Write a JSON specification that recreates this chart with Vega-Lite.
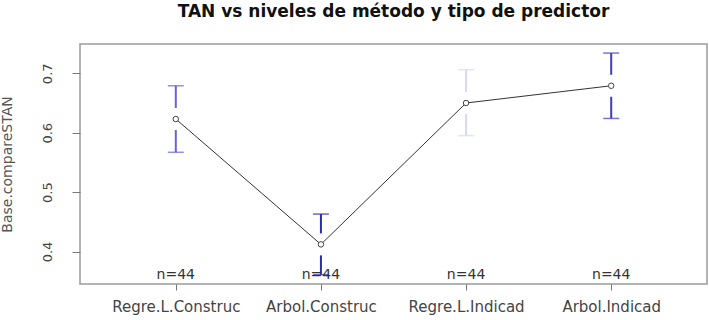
{
  "$schema": "https://vega.github.io/schema/vega-lite/v6.json",
  "width": 627,
  "height": 240,
  "autosize": {"type": "none"},
  "padding": {"left": 80, "top": 44, "right": 2, "bottom": 36},
  "background": "white",
  "config": {
    "view": {"stroke": "#9a9a9a", "strokeWidth": 1.5},
    "font": "DejaVu Sans"
  },
  "title": {
    "text": "TAN vs niveles de método y tipo de predictor",
    "fontSize": 17,
    "fontWeight": "bold",
    "font": "DejaVu Sans",
    "color": "#111111",
    "anchor": "middle",
    "baseline": "alphabetic",
    "offset": 10
  },
  "data": {
    "values": [
      {"grupo": "Regre.L.Construc", "idx": 1, "media": 0.623, "li": 0.567, "li_in": 0.6045, "ls_in": 0.6415, "ls": 0.679, "n": "n=44"},
      {"grupo": "Arbol.Construc", "idx": 2, "media": 0.412, "li": 0.361, "li_in": 0.3935, "ls_in": 0.4305, "ls": 0.463, "n": "n=44"},
      {"grupo": "Regre.L.Indicad", "idx": 3, "media": 0.650, "li": 0.595, "li_in": 0.6315, "ls_in": 0.6685, "ls": 0.706, "n": "n=44"},
      {"grupo": "Arbol.Indicad", "idx": 4, "media": 0.679, "li": 0.624, "li_in": 0.6605, "ls_in": 0.6975, "ls": 0.734, "n": "n=44"}
    ]
  },
  "encoding": {
    "x": {
      "field": "idx",
      "type": "quantitative",
      "scale": {"domain": [0.34, 4.66], "nice": false, "zero": false},
      "axis": {
        "values": [1, 2, 3, 4],
        "labelExpr": "['','Regre.L.Construc','Arbol.Construc','Regre.L.Indicad','Arbol.Indicad'][datum.value]",
        "title": null,
        "grid": false,
        "domain": false,
        "tickSize": 6,
        "tickColor": "#777777",
        "labelPadding": 9,
        "labelFontSize": 15,
        "labelColor": "#444444",
        "labelFlush": false,
        "labelOverlap": false
      }
    }
  },
  "layer": [
    {
      "mark": {"type": "rule", "strokeWidth": 2},
      "encoding": {
        "y": {
          "field": "ls_in",
          "type": "quantitative",
          "title": "Base.compareSTAN",
          "scale": {"domain": [0.3453, 0.7493], "nice": false, "zero": false},
          "axis": {
            "values": [0.4, 0.5, 0.6, 0.7],
            "format": ".1f",
            "grid": false,
            "domain": false,
            "tickSize": 8,
            "tickColor": "#777777",
            "labelAngle": 270,
            "labelAlign": "center",
            "labelBaseline": "bottom",
            "labelPadding": 18,
            "labelFontSize": 13,
            "labelColor": "#444444",
            "titleX": -73,
            "titleY": 120,
            "titleAngle": 270,
            "titleAlign": "center",
            "titleBaseline": "middle",
            "titleFontSize": 14,
            "titleFontWeight": "normal",
            "titleColor": "#555555"
          }
        },
        "y2": {"field": "ls"},
        "color": {
          "field": "grupo",
          "type": "nominal",
          "scale": {
            "domain": ["Regre.L.Construc", "Arbol.Construc", "Regre.L.Indicad", "Arbol.Indicad"],
            "range": ["#6464d8", "#2b2bb0", "#d8d8f6", "#3c3cc4"]
          },
          "legend": null
        }
      }
    },
    {
      "mark": {"type": "rule", "strokeWidth": 2},
      "encoding": {
        "y": {"field": "li", "type": "quantitative", "title": "Base.compareSTAN"},
        "y2": {"field": "li_in"},
        "color": {"field": "grupo", "type": "nominal", "legend": null}
      }
    },
    {
      "mark": {"type": "tick", "orient": "horizontal", "size": 16, "thickness": 1.5},
      "encoding": {
        "y": {"field": "ls", "type": "quantitative", "title": "Base.compareSTAN"},
        "color": {"field": "grupo", "type": "nominal", "legend": null}
      }
    },
    {
      "mark": {"type": "tick", "orient": "horizontal", "size": 16, "thickness": 1.5},
      "encoding": {
        "y": {"field": "li", "type": "quantitative", "title": "Base.compareSTAN"},
        "color": {"field": "grupo", "type": "nominal", "legend": null}
      }
    },
    {
      "mark": {"type": "line", "color": "#333333", "strokeWidth": 1},
      "encoding": {
        "y": {"field": "media", "type": "quantitative", "title": "Base.compareSTAN"}
      }
    },
    {
      "mark": {"type": "point", "shape": "circle", "filled": false, "fill": "white", "stroke": "#444444", "strokeWidth": 1, "size": 30, "opacity": 1},
      "encoding": {
        "y": {"field": "media", "type": "quantitative", "title": "Base.compareSTAN"}
      }
    },
    {
      "mark": {"type": "text", "fontSize": 14, "color": "#333333", "baseline": "middle", "align": "center"},
      "encoding": {
        "y": {"datum": 0.3603, "type": "quantitative"},
        "text": {"field": "n"}
      }
    }
  ]
}
